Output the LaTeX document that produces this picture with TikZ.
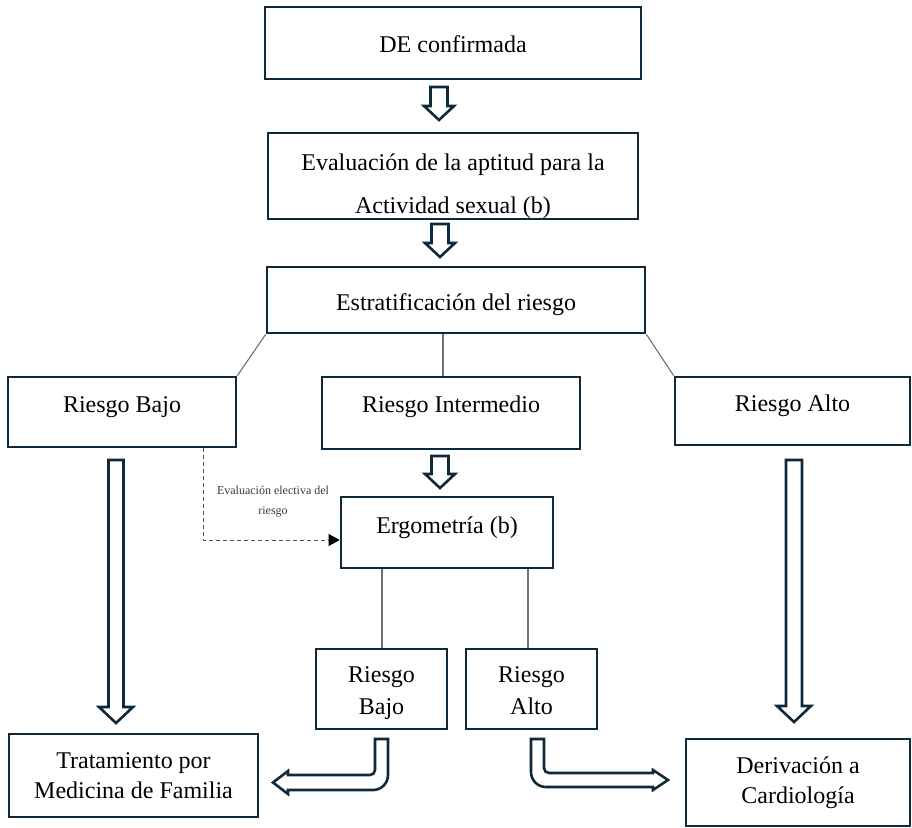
\documentclass[tikz,border=0pt]{standalone}
\usepackage{fontspec}
\setmainfont{Liberation Serif}
\usetikzlibrary{arrows.meta,calc}
\definecolor{navy}{HTML}{0E2A3A}
\definecolor{thinc}{HTML}{707070}
\definecolor{dashc}{HTML}{555555}
\definecolor{lblc}{HTML}{3A3A3A}
\newcommand\txtup[2]{\raisebox{#1}[\height][\depth]{#2}}
\newcommand\twolines[2]{\begin{tabular}{@{}c@{}}#1\\#2\end{tabular}}
\newcommand\blockdown[6]{%
  \draw[barrow] ({#1-#2},#3) -- ({#1+#2},#3) -- ({#1+#2},#4) -- ({#1+#6},#4) -- (#1,#5) -- ({#1-#6},#4) -- ({#1-#2},#4) -- cycle;}
\begin{document}
\begin{tikzpicture}[x=1pt,y=-1pt,
  box/.style={draw=navy,line width=2.8pt,fill=white,align=center,inner sep=0pt,
    font=\fontsize{24}{30}\selectfont},
  barrow/.style={draw=navy,line width=2.6pt,fill=white,line join=miter},
  thinln/.style={draw=thinc,line width=1.1pt},
  dashln/.style={draw=dashc,line width=1pt,dash pattern=on 4pt off 3pt},
  lbl/.style={align=center,inner sep=0pt,text=lblc,font=\fontsize{12}{20}\selectfont}]
\useasboundingbox[fill=white] (0,0) rectangle (912,827);

% boxes
\node[box,minimum width=376,minimum height=72] (de) at (453,43) {\txtup{-1pt}{DE confirmada}};
\node[box,minimum width=370,minimum height=82,font=\fontsize{24}{43}\selectfont] (eval) at (453,176)
  {\txtup{-7pt}{\twolines{Evaluación de la aptitud para la}{Actividad sexual (b)}}};
\node[box,minimum width=378,minimum height=66] (estr) at (456,300) {\txtup{-5pt}{Estratificación del riesgo}};
\node[box,minimum width=228,minimum height=70] (rb) at (122,412) {\txtup{5pt}{Riesgo Bajo}};
\node[box,minimum width=258,minimum height=72] (ri) at (451,413) {\txtup{6pt}{Riesgo Intermedio}};
\node[box,minimum width=235,minimum height=68] (ra) at (792.5,411) {\txtup{5pt}{Riesgo Alto}};
\node[box,minimum width=212,minimum height=71] (erg) at (447,532.5) {\txtup{5pt}{Ergometría (b)}};
\node[box,minimum width=131,minimum height=80,font=\fontsize{24}{32}\selectfont] (rb2) at (381.5,689)
  {\txtup{-3pt}{\twolines{Riesgo}{Bajo}}};
\node[box,minimum width=131,minimum height=80,font=\fontsize{24}{32}\selectfont] (ra2) at (531.5,689)
  {\txtup{-3pt}{\twolines{Riesgo}{Alto}}};
\node[box,minimum width=249,minimum height=83] (trat) at (133.5,775.5) {Tratamiento por\\Medicina de Familia};
\node[box,minimum width=224,minimum height=87] (deriv) at (798,782.5) {Derivación a\\Cardiología};

% thin connectors
\coordinate (mx) at (443,0);
\coordinate (lx) at (382,0);
\coordinate (rx) at (528,0);
\draw[thinln] (estr.south west) -- (rb.north east);
\draw[thinln] (estr.south east) -- (ra.north west);
\draw[thinln] (estr.south -| mx) -- (ri.north -| mx);
\draw[thinln] (erg.south -| lx) -- (rb2.north -| lx);
\draw[thinln] (erg.south -| rx) -- (ra2.north -| rx);

% dashed elective evaluation
\coordinate (dk) at (203,540);
\draw[dashln,-{Triangle[length=11pt,width=12pt,color=black]}] (rb.south -| dk) -- (dk) -- (erg.west |- dk);
\node[lbl] (evlab) at (273,502) {Evaluación electiva del\\riesgo};

% block arrows
\blockdown{439}{8.5}{87}{106}{120}{15}
\blockdown{440}{8.5}{224}{243}{257}{15}
\blockdown{440}{8.5}{456}{474}{488}{15}
\blockdown{116}{7.5}{460}{707}{723}{17}
\blockdown{794}{8}{460}{706}{722}{17}

% bent arrows
\draw[barrow] (375,739) -- (388,739) -- (388,775) .. controls (388,783.3) and (381.3,790) .. (373,790)
  -- (288,790) -- (288,794) -- (273,782.5) -- (288,771) -- (288,775) -- (370,775)
  .. controls (372.8,775) and (375,772.8) .. (375,770) -- cycle;
\draw[barrow] (531,739) -- (544,739) -- (544,768) .. controls (544,770.8) and (546.2,773) .. (549,773)
  -- (653,773) -- (653,770) -- (668,780) -- (653,790) -- (653,787) -- (546,787)
  .. controls (537.7,787) and (531,780.3) .. (531,772) -- cycle;
\end{tikzpicture}
\end{document}
